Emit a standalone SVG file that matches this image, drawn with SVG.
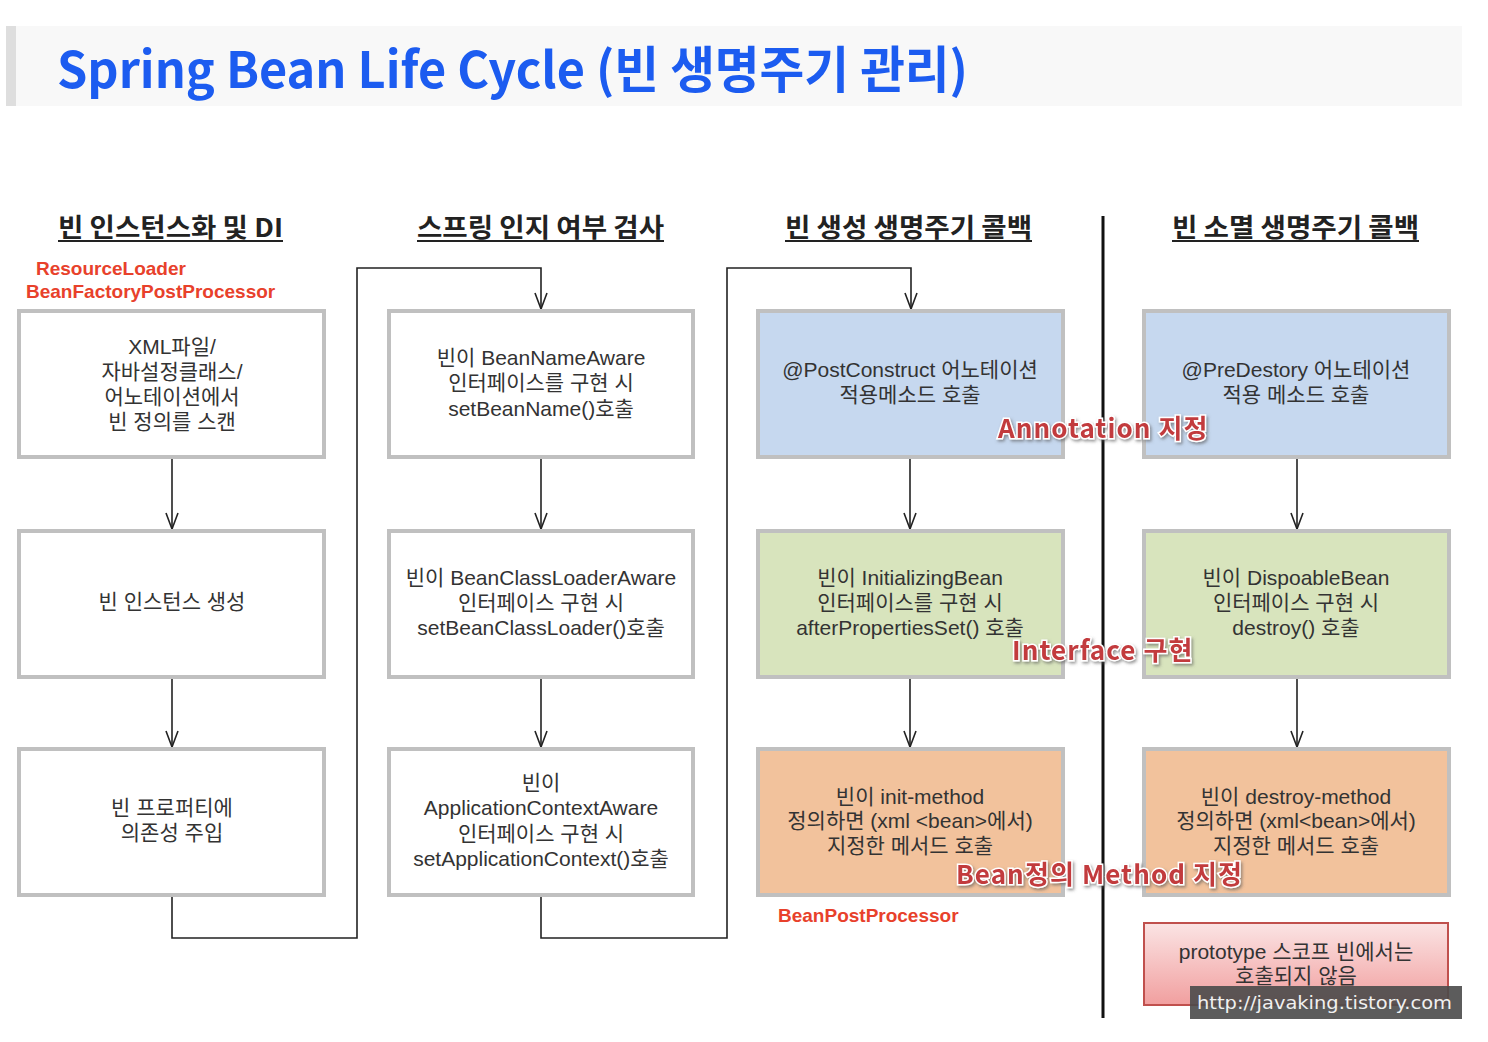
<svg xmlns="http://www.w3.org/2000/svg" width="1488" height="1042" viewBox="0 0 1488 1042">
<defs>
<style>
.box{stroke:#c0c0c0;stroke-width:4}
.white{fill:#ffffff}
.blue{fill:#c6d8ef}
.green{fill:#d8e4bd}
.orange{fill:#f2c29c}
.t{font-family:"Liberation Sans","Noto Sans CJK KR",sans-serif;font-size:21px;fill:#333;text-anchor:middle}
.hdr{font-family:"Noto Sans CJK KR","Noto Sans",sans-serif;font-size:26px;font-weight:700;fill:#222}
.red{font-family:"Liberation Sans",Arial,sans-serif;font-size:19px;font-weight:700;fill:#e8412b}
.ov{font-family:"Noto Sans CJK KR","Noto Sans",sans-serif;font-size:26px;font-weight:700;fill:#c23a3e;stroke:#ffffff;stroke-width:3;paint-order:stroke;letter-spacing:1.1px;filter:url(#sh)}
.ln{fill:none;stroke:#222;stroke-width:1.6}
</style>
<filter id="sh" x="-10%" y="-30%" width="120%" height="160%">
<feDropShadow dx="1.5" dy="2" stdDeviation="1.5" flood-color="#555" flood-opacity="0.6"/>
</filter>
<linearGradient id="pg" x1="0" y1="0" x2="0" y2="1">
<stop offset="0" stop-color="#fbe4e4"/>
<stop offset="1" stop-color="#f19f9f"/>
</linearGradient>
<marker id="ah" viewBox="0 0 18 14" refX="17" refY="7" markerWidth="18" markerHeight="14" markerUnits="userSpaceOnUse" orient="auto">
<path d="M1,1 L17,7 L1,13" fill="none" stroke="#222" stroke-width="1.6"/>
</marker>
</defs>
<rect width="1488" height="1042" fill="#ffffff"/>
<g id="title">
<rect x="6" y="26" width="1456" height="80" fill="#f8f8f8"/>
<rect x="6" y="26" width="10" height="80" fill="#dedede"/>
<text x="57" y="88" font-family="'Noto Sans CJK KR','Noto Sans',sans-serif" font-size="50" font-weight="700" fill="#1c5cf0" textLength="911" lengthAdjust="spacingAndGlyphs">Spring Bean Life Cycle (빈 생명주기 관리)</text>
</g>
<g id="headers">
<text class="hdr" x="58" y="237" textLength="225" lengthAdjust="spacingAndGlyphs">빈 인스턴스화 및 DI</text>
<line x1="58" y1="241" x2="283" y2="241" stroke="#222" stroke-width="2"/>
<text class="hdr" x="417" y="237" textLength="247" lengthAdjust="spacingAndGlyphs">스프링 인지 여부 검사</text>
<line x1="417" y1="241" x2="664" y2="241" stroke="#222" stroke-width="2"/>
<text class="hdr" x="785" y="237" textLength="247" lengthAdjust="spacingAndGlyphs">빈 생성 생명주기 콜백</text>
<line x1="785" y1="241" x2="1032" y2="241" stroke="#222" stroke-width="2"/>
<text class="hdr" x="1172" y="237" textLength="247" lengthAdjust="spacingAndGlyphs">빈 소멸 생명주기 콜백</text>
<line x1="1172" y1="241" x2="1419" y2="241" stroke="#222" stroke-width="2"/>
</g>
<g id="divider"><line x1="1103" y1="216" x2="1103" y2="1018" stroke="#111" stroke-width="3"/></g>
<g id="redlabels">
<text class="red" x="36" y="275">ResourceLoader</text>
<text class="red" x="26" y="298">BeanFactoryPostProcessor</text>
<text class="red" x="778" y="922">BeanPostProcessor</text>
</g>
<g id="connectors">
<line class="ln" x1="172" y1="459" x2="172" y2="529" marker-end="url(#ah)"/>
<line class="ln" x1="172" y1="679" x2="172" y2="747" marker-end="url(#ah)"/>
<line class="ln" x1="541" y1="459" x2="541" y2="529" marker-end="url(#ah)"/>
<line class="ln" x1="541" y1="679" x2="541" y2="747" marker-end="url(#ah)"/>
<line class="ln" x1="910" y1="459" x2="910" y2="529" marker-end="url(#ah)"/>
<line class="ln" x1="910" y1="679" x2="910" y2="747" marker-end="url(#ah)"/>
<line class="ln" x1="1297" y1="459" x2="1297" y2="529" marker-end="url(#ah)"/>
<line class="ln" x1="1297" y1="679" x2="1297" y2="747" marker-end="url(#ah)"/>
<polyline class="ln" points="172,897 172,938 357,938 357,268 541,268 541,309" marker-end="url(#ah)"/>
<polyline class="ln" points="541,897 541,938 727,938 727,268 911,268 911,309" marker-end="url(#ah)"/>
</g>
<g id="n1"><rect class="box white" x="19" y="311" width="305" height="146"/>
<text class="t" x="172" y="354">XML파일/</text><text class="t" x="172" y="379">자바설정클래스/</text><text class="t" x="172" y="404">어노테이션에서</text><text class="t" x="172" y="429">빈 정의를 스캔</text></g>
<g id="n2"><rect class="box white" x="19" y="531" width="305" height="146"/>
<text class="t" x="172" y="609">빈 인스턴스 생성</text></g>
<g id="n3"><rect class="box white" x="19" y="749" width="305" height="146"/>
<text class="t" x="172" y="815">빈 프로퍼티에</text><text class="t" x="172" y="840">의존성 주입</text></g>
<g id="n4"><rect class="box white" x="389" y="311" width="304" height="146"/>
<text class="t" x="541" y="365">빈이 BeanNameAware</text><text class="t" x="541" y="390">인터페이스를 구현 시</text><text class="t" x="541" y="416">setBeanName()호출</text></g>
<g id="n5"><rect class="box white" x="389" y="531" width="304" height="146"/>
<text class="t" x="541" y="585">빈이 BeanClassLoaderAware</text><text class="t" x="541" y="610">인터페이스 구현 시</text><text class="t" x="541" y="635">setBeanClassLoader()호출</text></g>
<g id="n6"><rect class="box white" x="389" y="749" width="304" height="146"/>
<text class="t" x="541" y="790">빈이</text><text class="t" x="541" y="815">ApplicationContextAware</text><text class="t" x="541" y="841">인터페이스 구현 시</text><text class="t" x="541" y="866">setApplicationContext()호출</text></g>
<g id="n7"><rect class="box blue" x="758" y="311" width="305" height="146"/>
<text class="t" x="910" y="377">@PostConstruct 어노테이션</text><text class="t" x="910" y="402">적용메소드 호출</text></g>
<g id="n8"><rect class="box green" x="758" y="531" width="305" height="146"/>
<text class="t" x="910" y="585">빈이 InitializingBean</text><text class="t" x="910" y="610">인터페이스를 구현 시</text><text class="t" x="910" y="635">afterPropertiesSet()  호출</text></g>
<g id="n9"><rect class="box orange" x="758" y="749" width="305" height="146"/>
<text class="t" x="910" y="804">빈이 init-method</text><text class="t" x="910" y="828">정의하면 (xml &lt;bean&gt;에서)</text><text class="t" x="910" y="853">지정한 메서드 호출</text></g>
<g id="n10"><rect class="box blue" x="1144" y="311" width="305" height="146"/>
<text class="t" x="1296" y="377">@PreDestory 어노테이션</text><text class="t" x="1296" y="402">적용 메소드 호출</text></g>
<g id="n11"><rect class="box green" x="1144" y="531" width="305" height="146"/>
<text class="t" x="1296" y="585">빈이 DispoableBean</text><text class="t" x="1296" y="610">인터페이스 구현 시</text><text class="t" x="1296" y="635">destroy() 호출</text></g>
<g id="n12"><rect class="box orange" x="1144" y="749" width="305" height="146"/>
<text class="t" x="1296" y="804">빈이 destroy-method</text><text class="t" x="1296" y="828">정의하면 (xml&lt;bean&gt;에서)</text><text class="t" x="1296" y="853">지정한 메서드 호출</text></g>
<g id="n13"><rect x="1144" y="923" width="304" height="82" fill="url(#pg)" stroke="#c0504d" stroke-width="2"/>
<text class="t" x="1296" y="959">prototype 스코프 빈에서는</text><text class="t" x="1296" y="983">호출되지 않음</text></g>
<g id="overlays">
<text class="ov" x="998" y="438">Annotation 지정</text>
<text class="ov" x="1012" y="660">Interface 구현</text>
<text class="ov" x="956" y="884">Bean정의 Method 지정</text>
</g>
<g id="watermark">
<rect x="1190" y="986" width="272" height="33" fill="#4a4a4a" fill-opacity="0.9"/>
<text x="1197" y="1009" font-family="'DejaVu Sans',sans-serif" font-size="18" fill="#f0f0f0" textLength="255" lengthAdjust="spacingAndGlyphs">http://javaking.tistory.com</text>
</g>
</svg>
